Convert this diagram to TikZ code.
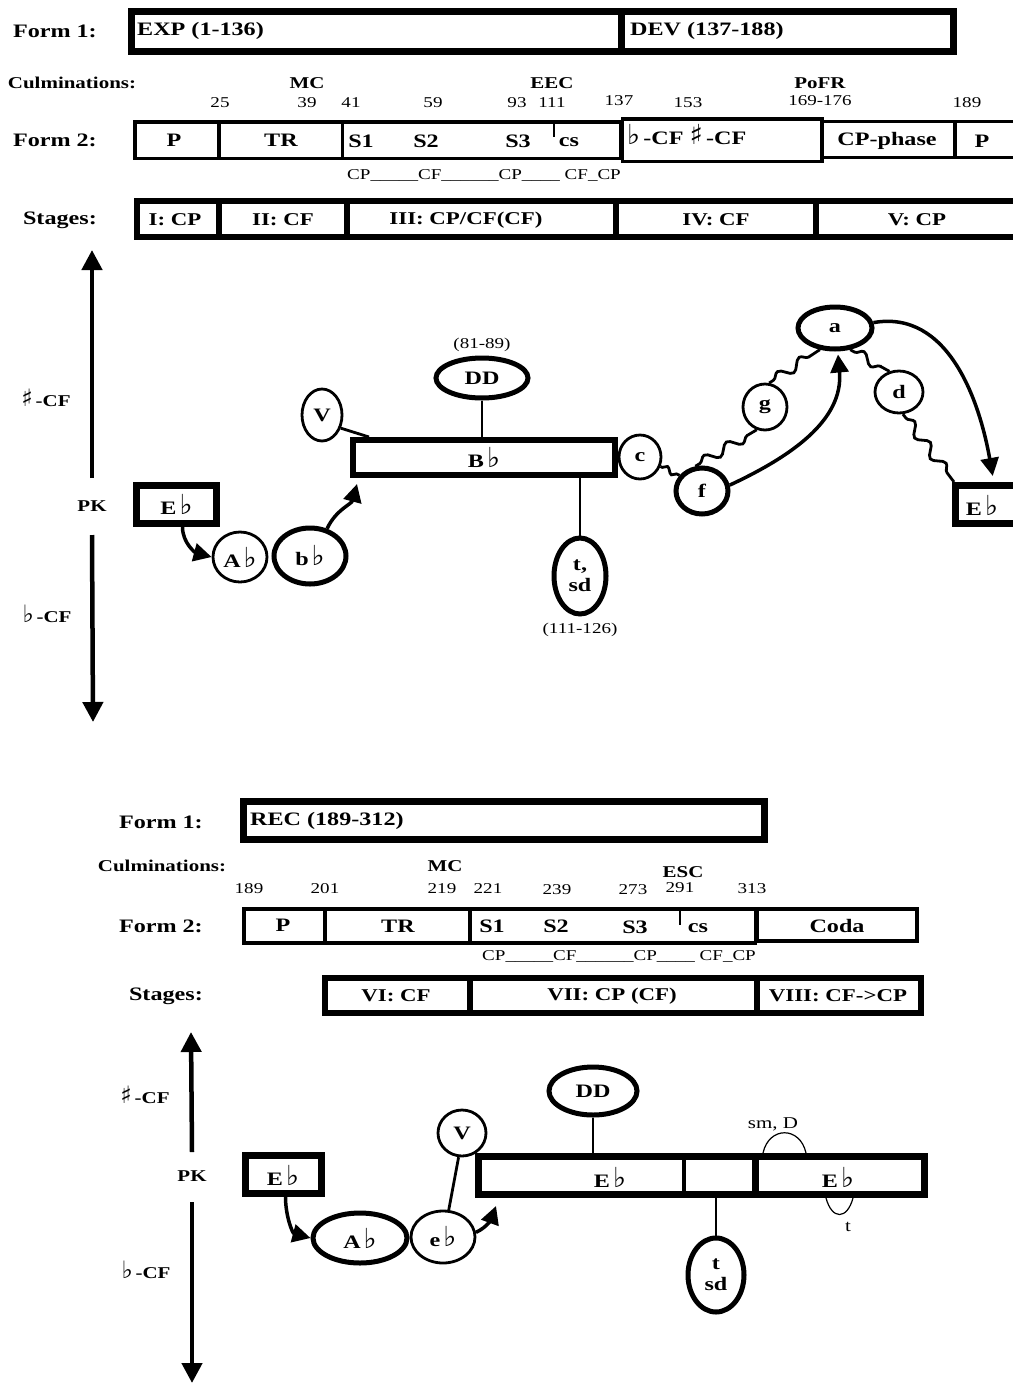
\documentclass[tikz,border=0pt]{standalone}
\usepackage{fontspec}
\setmainfont{Liberation Serif}[FakeStretch=1.27]
\newfontfamily\symf{DejaVu Sans}[Scale=1.45]
\usetikzlibrary{shapes.geometric,arrows.meta,decorations.pathmorphing,fit}
\newcommand\fl{{\symf\mdseries\char"266D}}
\newcommand\sh{{\symf\mdseries\char"266F}}
\newcommand\Fl{\hspace{3pt}\fl}

\begin{document}
\begin{tikzpicture}[x=1pt,y=-1pt,
  lbl/.style={font=\fontsize{19}{22}\selectfont\bfseries, inner sep=0pt},
  stg/.style={font=\fontsize{18}{21}\selectfont\bfseries, inner sep=0pt},
  key/.style={font=\fontsize{19}{21}\selectfont\bfseries, inner sep=0pt, align=center},
  cul/.style={font=\fontsize{16.5}{19}\selectfont\bfseries, inner sep=0pt},
  num/.style={font=\fontsize{15}{17}\selectfont, inner sep=0pt},
  sml/.style={font=\fontsize{16.5}{18}\selectfont, inner sep=0pt},
  frm/.style={draw, line width=7pt, inner sep=0pt},
  sec/.style={draw, line width=3.5pt, inner sep=0pt},
  stgbox/.style={draw, line width=6pt, inner sep=0pt},
  keybox/.style={draw, line width=7pt, inner sep=0pt},
  thinell/.style={ellipse, draw, line width=2.8pt, key},
  thickell/.style={ellipse, draw, line width=5pt, key},
  link/.style={line width=2.8pt},
  curve/.style={line width=3.5pt, -{Triangle[length=18pt,width=18pt]}},
  axis/.style={line width=4.5pt, -{Triangle[length=20pt,width=20pt]}},
  wavy/.style={line width=2.8pt,
    decoration={snake, amplitude=5pt, segment length=26pt, pre length=5pt, post length=5pt}, decorate},
  cadence/.style={line width=2.5pt}]
\useasboundingbox[fill=white] (0,0) rectangle (1012,1384);

% ===================== Exposition and development =====================
% Form 1
\node[lbl, anchor=east] (form1a) at (97,31) {Form 1:};
\node[frm, fit={(131.5,11)(621.5,51.5)}] (exp) {};
\node[frm, fit={(621.5,11)(953.5,51.5)}] (dev) {};
\node[lbl, anchor=west] (expt) at (137,31) {EXP (1-136)};
\node[lbl, anchor=west] (devt) at (630,31) {DEV (137-188)};

% Culminations and bar numbers
\node[cul] (cula) at (72,83) {Culminations:};
\node[cul] (mca) at (307,83) {MC};
\node[cul] (eec) at (552,83) {EEC};
\node[cul] (pofr) at (820,83) {PoFR};
\node[num] at (220,103) (n25) {25};
\node[num] at (307,103) (n39) {39};
\node[num] at (351,103) (n41) {41};
\node[num] at (433,103) (n59) {59};
\node[num] at (517,103) (n93) {93};
\node[num] at (552,103) (n111) {111};
\node[num] at (619,101) (n137) {137};
\node[num] at (688,103) (n153) {153};
\node[num] at (820,101) (n169) {169-176};
\node[num] at (967,103) (n189) {189};

% Form 2
\node[lbl, anchor=east] (form2a) at (97,140) {Form 2:};
\node[sec, fit={(135,122)(219,158.5)}] (pa) {};
\node[sec, fit={(219,122)(342.5,158.5)}] (tra) {};
\node[sec, fit={(342.5,122)(620.5,158.5)}] (sa) {};
\node[sec, fit={(622.5,119)(822,161.5)}] (cfa) {};
\node[sec, fit={(822,121.5)(955,157.5)}] (cpph) {};
\node[sec, fit={(955,121.5)(1030,157.5)}] (pb) {};
\node[lbl] (pat) at (174,140) {P};
\node[lbl] (trat) at (281,140) {TR};
\node[lbl] (s1a) at (361,141) {S1};
\node[lbl] (s2a) at (426,141) {S2};
\node[lbl] (s3a) at (518,141) {S3};
\node[lbl] (csa) at (569,142) {cs};
\coordinate (ecat) at (554,123);
\coordinate (ecab) at (554,137);
\draw[cadence] (ecat) -- (ecab);
\node[lbl, anchor=west] (cfat) at (627,135) {\fl\,-CF \sh\,-CF};
\node[lbl] (cpphat) at (887,141) {CP-phase};
\node[lbl] (pbt) at (982,141) {P};
\node[num, anchor=west] (cpla) at (347,175) {CP\_\_\_\_\_CF\_\_\_\_\_\_CP\_\_\_\_ CF\_CP};

% Stages
\node[lbl, anchor=east] (stga) at (97,220) {Stages:};
\node[stgbox, fit={(136.5,201)(219,237)}] (st1) {};
\node[stgbox, fit={(219,201)(346.5,237)}] (st2) {};
\node[stgbox, fit={(346.5,201)(615.5,237)}] (st3) {};
\node[stgbox, fit={(615.5,201)(815.5,237)}] (st4) {};
\node[stgbox, fit={(815.5,201)(1030,237)}] (st5) {};
\node[stg] (st1t) at (175,220) {I: CP};
\node[stg] (st2t) at (283,220) {II: CF};
\node[stg] (st3t) at (466,220) {III: CP/CF(CF)};
\node[stg] (st4t) at (716,220) {IV: CF};
\node[stg] (st5t) at (917,220) {V: CP};

% Key axis
\node[cul] (pka) at (92,506) {PK};
\coordinate (upa) at (92,250);
\coordinate (dna) at (93,722);
\draw[axis] ([yshift=28pt]pka.center) -- (upa);
\draw[axis] ([yshift=-29pt]pka.center) -- (dna);
\node[cul] (sharpa) at (46,398) {\sh\,-CF};
\node[cul] (flata) at (47,614) {\fl\,-CF};

% Key areas
\node[keybox, fit={(136.5,485.5)(216.5,523.5)}] (eba) {};
\node[key] at (eba.center) (ebat) {E\Fl};
\node[thinell, minimum width=54pt, minimum height=50pt] (aba) at (240,557) {A\Fl};
\node[thickell, minimum width=72pt, minimum height=56pt] (bba) at (310,556) {b\Fl};
\node[draw, line width=6pt, inner sep=0pt, fit={(353,440)(615,475)}] (bfa) {};
\node[key] (bfat) at (484,457) {B\Fl};
\node[thinell, minimum width=40pt, minimum height=52pt] (va) at (322,415) {V};
\node[thickell, minimum width=92pt, minimum height=40pt] (dda) at (482,378) {DD};
\node[num] (ddan) at (482,345) {(81-89)};
\node[thickell, minimum width=52pt, minimum height=76pt] (tsda) at (580,576) {t,\\sd};
\node[num] (tsdan) at (580,630) {(111-126)};
\node[thinell, minimum width=42pt, minimum height=44pt] (ca) at (640,457) {c};
\node[thickell, minimum width=52pt, minimum height=46pt] (fa) at (702,491) {f};
\node[thinell, minimum width=44pt, minimum height=46pt] (ga) at (765,407) {g};
\node[thickell, minimum width=74pt, minimum height=42pt] (aa) at (835,328) {a};
\node[thinell, minimum width=48pt, minimum height=42pt] (da) at (899,392) {d};
\node[keybox, fit={(955.5,485.5)(1030,523.5)}] (ebb) {};
\node[key] (ebbt) at (982,505) {E\Fl};

% Connections
\draw[curve] ([xshift=6pt]eba.south) to[out=-90, in=165] (aba.west);
\draw[curve] (bba.58) to[out=65, in=-105] ([xshift=7pt, yshift=-6pt]bfa.south west);
\draw[link] (va.-35) -- ([xshift=19pt]bfa.north west);
\draw[link] (dda.south) -- (dda.south |- bfa.north);
\draw[link] (tsda.north |- bfa.south) -- (tsda.north);
\draw[line width=2.8pt, decoration={snake, amplitude=3pt, segment length=14pt, pre length=2pt, post length=2pt}, decorate] (ca.-25) -- (fa.145);
\draw[wavy] (fa.105) -- (ga.-110);
\draw[wavy] (ga.80) -- (aa.-125);
\draw[wavy] (aa.-55) -- (da.115);
\draw[wavy] (da.-80) -- ([xshift=2pt]ebb.north west);
\draw[curve] (fa.12) to[out=25, in=-85] ([xshift=3pt, yshift=-3pt]aa.south);
\draw[curve] (aa.8) to[out=10, in=100] ([yshift=6pt]ebb.north);

% ===================== Recapitulation and coda =====================
% Form 1
\node[lbl, anchor=east] (form1b) at (203,822) {Form 1:};
\node[frm, fit={(243.5,801.5)(764.5,839.5)}] (rec) {};
\node[lbl, anchor=west] (rect) at (250,821) {REC (189-312)};

% Culminations and bar numbers
\node[cul] (culb) at (162,866) {Culminations:};
\node[cul] (mcb) at (445,866) {MC};
\node[cul] (esc) at (683,872) {ESC};
\node[num] (m189) at (249,889) {189};
\node[num] (m201) at (325,889) {201};
\node[num] (m219) at (442,889) {219};
\node[num] (m221) at (488,889) {221};
\node[num] (m239) at (557,890) {239};
\node[num] (m273) at (633,890) {273};
\node[num] (m291) at (680,888) {291};
\node[num] (m313) at (752,889) {313};

% Form 2
\node[lbl, anchor=east] (form2b) at (203,926) {Form 2:};
\node[sec, fit={(244,909)(325,943)}] (pc) {};
\node[sec, fit={(325,909)(470,943)}] (trc) {};
\node[sec, fit={(470,909)(755.5,943)}] (sc) {};
\node[sec, fit={(757,909)(917,941)}] (coda) {};
\node[lbl] (pct) at (283,925) {P};
\node[lbl] (trct) at (398,926) {TR};
\node[lbl] (s1c) at (492,926) {S1};
\node[lbl] (s2c) at (556,926) {S2};
\node[lbl] (s3c) at (635,927) {S3};
\node[lbl] (csc) at (698,928) {cs};
\coordinate (esct) at (680,910);
\coordinate (escb) at (680,925);
\draw[cadence] (esct) -- (escb);
\node[lbl] (codat) at (837,926) {Coda};
\node[num, anchor=west] (cplc) at (482,956) {CP\_\_\_\_\_CF\_\_\_\_\_\_CP\_\_\_\_ CF\_CP};

% Stages
\node[lbl, anchor=east] (stgc) at (203,996) {Stages:};
\node[stgbox, fit={(325,978)(469.5,1013)}] (st6) {};
\node[stgbox, fit={(469.5,978)(756.5,1013)}] (st7) {};
\node[stgbox, fit={(756.5,978)(921,1013)}] (st8) {};
\node[stg] (st6t) at (396,996) {VI: CF};
\node[stg] (st7t) at (612,996) {VII: CP (CF)};
\node[stg] (st8t) at (838,996) {VIII: CF->CP};

% Key axis
\node[cul] (pkb) at (192,1176) {PK};
\coordinate (upb) at (191,1032);
\coordinate (dnb) at (192,1383);
\draw[axis] ([yshift=24pt]pkb.center) -- (upb);
\draw[axis] ([yshift=-26pt]pkb.center) -- (dnb);
\node[cul] (sharpb) at (145,1095) {\sh\,-CF};
\node[cul] (flatb) at (146,1270) {\fl\,-CF};

% Key areas
\node[keybox, fit={(245.5,1155.5)(321.5,1193.5)}] (ebc) {};
\node[key] (ebct) at (283,1175) {E\Fl};
\node[thickell, minimum width=94pt, minimum height=50pt] (abc) at (360,1238) {A\Fl};
\node[thinell, minimum width=64pt, minimum height=52pt] (ebm) at (443,1237) {e\Fl};
\node[thinell, minimum width=48pt, minimum height=46pt] (vc) at (462,1133) {V};
\node[keybox, fit={(478.5,1156.5)(755.5,1194.5)}] (ebd) {};
\node[key] (ebdt) at (610,1177) {E\Fl};
\coordinate (divt) at (684,1156.5);
\coordinate (divb) at (684,1194.5);
\draw[line width=3.5pt] (divt) -- (divb);
\node[keybox, fit={(755.5,1156.5)(924.5,1194.5)}] (ebe) {};
\node[key] (ebet) at (838,1177) {E\Fl};
\node[thickell, minimum width=88pt, minimum height=48pt] (ddc) at (593,1091) {DD};
\node[thickell, minimum width=56pt, minimum height=74pt] (tsdc) at (716,1275) {t\\sd};

% Connections
\draw[curve] ([xshift=2pt]ebc.south) to[out=-90, in=165] (abc.west);
\draw[curve] (ebm.8) to[out=25, in=-110] ([xshift=21pt, yshift=-8pt]ebd.south west);
\draw[link] (ebm.78) -- (vc.-98);
\draw[link] (ddc.south) -- (ddc.south |- ebd.north);
\draw[link] (tsdc.north |- ebd.south) -- (tsdc.north);

% Local inflections on the closing tonic
\coordinate (smL) at (763,1153);
\coordinate (smR) at (806,1153);
\draw[line width=1.2pt] (smL) .. controls (769,1126) and (800,1126) .. (smR);
\node[sml] (smt) at (773,1124) {sm, D};
\coordinate (tL) at (826,1198);
\coordinate (tR) at (853,1198);
\draw[line width=1.2pt] (tL) .. controls (832,1220) and (847,1220) .. (tR);
\node[sml] (tt) at (848,1227) {t};
\end{tikzpicture}
\end{document}
